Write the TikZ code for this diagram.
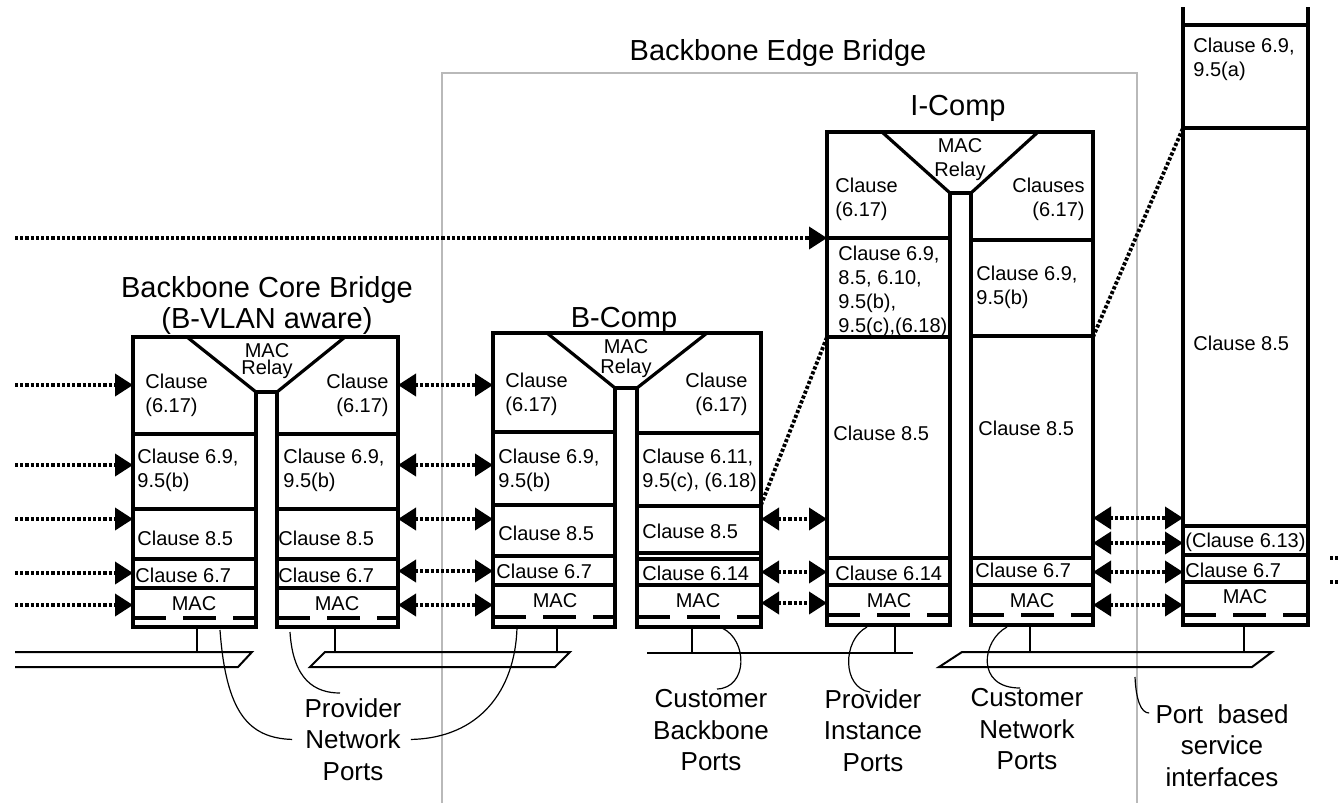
\documentclass[tikz,border=0pt]{standalone}
\usepackage{fontspec}
\setmainfont{Liberation Sans}
\usetikzlibrary{arrows.meta}

\begin{document}
\begin{tikzpicture}[x=0.5pt, y=-0.5pt,
    box/.style={line width=1.6pt},
    macline/.style={line width=1.8pt, dash pattern=on 16.5pt off 8.5pt},
    bus/.style={line width=1pt},
    stem/.style={line width=1.4pt},
    dots/.style={line width=1.9pt, dash pattern=on 1.6pt off 1pt},
    sig/.style={dots, -{Triangle[length=9pt,width=11pt]}},
    dsig/.style={dots, {Triangle[length=9pt,width=11pt]}-{Triangle[length=9pt,width=11pt]}},
    leader/.style={line width=0.6pt},
    cl/.style={inner sep=0pt, anchor=north west, align=left, font=\fontsize{10}{12}\selectfont},
    clr/.style={cl, anchor=north east, align=right},
    mac/.style={inner sep=0pt, anchor=base, font=\fontsize{10}{12}\selectfont},
    relay/.style={inner sep=0pt, anchor=north, align=center, font=\fontsize{10}{#1}\selectfont},
    ttl/.style={inner sep=0pt, anchor=base, align=center, font=\fontsize{14.5}{15.5}\selectfont},
    lab/.style={inner sep=0pt, anchor=north, align=center, font=\fontsize{13}{15.75}\selectfont}]
\useasboundingbox (0,0) rectangle (1342,803);

\coordinate (src) at (15,0);
\coordinate (bcbW) at (133,0);
\coordinate (bcbE) at (398,0);
\coordinate (bcW) at (493,0);
\coordinate (bcE) at (761,0);
\coordinate (icW) at (827,0);
\coordinate (icE) at (1093,0);
\coordinate (pbW) at (1183,0);
\coordinate (pbE) at (1308,0);

\draw[gray!55, line width=0.9pt] (442,803) -- (442,73) -- (1137,73) -- (1137,803);
\node[ttl] (edge) at (778,60) {Backbone Edge Bridge};

% backbone core bridge
\node[ttl, anchor=north] (core) at (267,276) {Backbone Core Bridge\\(B-VLAN aware)};
\draw[box] (256,627) -- (133,627) -- (133,337) -- (398,337) -- (398,627) -- (277,627) -- (277,392) -- (256,392) -- cycle;
\draw[box] (187,337) -- (256,392) (345,337) -- (277,392);
\foreach \y in {434,509,559,588}
    \draw[box] (133,\y) -- (256,\y) (277,\y) -- (398,\y);
\draw[macline] (133,618) -- (256,618) (277,618) -- (398,618);
\node[relay=8.5] (coreRelay) at (267,343) {MAC\\Relay};
\node[cl] (coreL1) at (145,373.5) {Clause\\(6.17)};
\node[cl] (coreL2) at (137,448.5) {Clause 6.9,\\9.5(b)};
\node[cl] (coreL3) at (137,530.5) {Clause 8.5};
\node[cl] (coreL4) at (135,567.5) {Clause 6.7};
\node[mac] (coreLm) at (194,610) {MAC};
\node[clr] (coreR1) at (389,373.5) {Clause\\(6.17)};
\node[cl] (coreR2) at (283,448.5) {Clause 6.9,\\9.5(b)};
\node[cl] (coreR3) at (278,530.5) {Clause 8.5};
\node[cl] (coreR4) at (278,567.5) {Clause 6.7};
\node[mac] (coreRm) at (337,610) {MAC};

% b-comp
\node[ttl] (bcomp) at (624,327) {B-Comp};
\draw[box] (615,627) -- (493,627) -- (493,333) -- (761,333) -- (761,627) -- (637,627) -- (637,388) -- (615,388) -- cycle;
\draw[box] (547,333) -- (615,388) (707,333) -- (637,388);
\foreach \y in {432,505,556,585}
    \draw[box] (493,\y) -- (615,\y);
\foreach \y in {433,506,553,559,585}
    \draw[box] (637,\y) -- (761,\y);
\draw[macline] (493,617) -- (615,617) (637,617) -- (761,617);
\node[relay=10] (bcRelay) at (626,339) {MAC\\Relay};
\node[cl] (bcL1) at (505,372.5) {Clause\\(6.17)};
\node[cl] (bcL2) at (498,448.5) {Clause 6.9,\\9.5(b)};
\node[cl] (bcL3) at (498,525.5) {Clause 8.5};
\node[cl] (bcL4) at (496,563.5) {Clause 6.7};
\node[mac] (bcLm) at (555,607) {MAC};
\node[clr] (bcR1) at (748,372.5) {Clause\\(6.17)};
\node[cl] (bcR2) at (642,448.5) {Clause 6.11,\\9.5(c), (6.18)};
\node[cl] (bcR3) at (642,523.5) {Clause 8.5};
\node[cl] (bcR4) at (642,565.5) {Clause 6.14};
\node[mac] (bcRm) at (698,607) {MAC};

% i-comp
\node[ttl] (icomp) at (958,115) {I-Comp};
\draw[box] (950,625) -- (827,625) -- (827,132) -- (1093,132) -- (1093,625) -- (971,625) -- (971,193) -- (950,193) -- cycle;
\draw[box] (882,132) -- (950,193) (1038,132) -- (971,193);
\foreach \y in {238,337,558,585}
    \draw[box] (827,\y) -- (950,\y);
\foreach \y in {240,336,558,585}
    \draw[box] (971,\y) -- (1093,\y);
\draw[macline] (827,615) -- (950,615) (971,615) -- (1093,615);
\node[relay=12] (icRelay) at (960,138) {MAC\\Relay};
\node[cl] (icL1) at (835,177.5) {Clause\\(6.17)};
\node[cl] (icL2) at (838,245.5) {Clause 6.9,\\8.5, 6.10,\\9.5(b),\\9.5(c),(6.18)};
\node[cl] (icL3) at (833,425.5) {Clause 8.5};
\node[cl] (icL4) at (835,565.5) {Clause 6.14};
\node[mac] (icLm) at (889,607) {MAC};
\node[clr] (icR1) at (1085,177.5) {Clauses\\(6.17)};
\node[cl] (icR2) at (976,265.5) {Clause 6.9,\\9.5(b)};
\node[cl] (icR3) at (978,420.5) {Clause 8.5};
\node[cl] (icR4) at (975,562.5) {Clause 6.7};
\node[mac] (icRm) at (1032,607) {MAC};

% port based interface
\draw[box] (1183,7) -- (1183,625) -- (1308,625) -- (1308,7);
\foreach \y in {25,128,526,555,582}
    \draw[box] (1183,\y) -- (1308,\y);
\draw[macline] (1183,615) -- (1308,615);
\node[cl] (pbA) at (1193,37.5) {Clause 6.9,\\9.5(a)};
\node[cl] (pbB) at (1193,335.5) {Clause 8.5};
\node[cl] (pbC) at (1185,532.5) {(Clause 6.13)};
\node[cl] (pbD) at (1185,562.5) {Clause 6.7};
\node[mac] (pbm) at (1245,603) {MAC};

% lans
\draw[bus] (15,652) -- (252,652) -- (238,667) -- (15,667);
\draw[bus] (325,652) -- (570,652) -- (555,667) -- (310,667) -- cycle;
\draw[line width=1.4pt] (647,653) -- (913,653);
\draw[bus] (962,652) -- (1272,652) -- (1252,667) -- (939,667) -- cycle;
\foreach \x in {197,335,557,692,895,1030,1244}
    \draw[stem] (\x,627) -- (\x,652);

% signals
\draw[sig] (src |- 0,238) -- (icW |- 0,238);
\foreach \y in {385,465,519,573,605}
    \draw[sig] (src |- 0,\y) -- (bcbW |- 0,\y);
\foreach \y in {385,465,519,571,605}
    \draw[dsig] (bcbE |- 0,\y) -- (bcW |- 0,\y);
\foreach \y in {519,572,603}
    \draw[dsig] (bcE |- 0,\y) -- (icW |- 0,\y);
\foreach \y in {518,543,572,605}
    \draw[dsig] (icE |- 0,\y) -- (pbW |- 0,\y);
\foreach \y in {558,582}
    \draw[dots] ([xshift=11pt]pbE |- 0,\y) -- ++(10,0);
\draw[dots] (bcE |- 0,505) -- (icW |- 0,337);
\draw[dots] (icE |- 0,337) -- (pbW |- 0,128);

% port labels
\node[lab] (pnp) at (353,698) {Provider\\Network\\Ports};
\node[lab] (cbp) at (711,689) {Customer\\Backbone\\Ports};
\node[lab] (pip) at (873,689) {Provider\\Instance\\Ports};
\node[lab] (cnp) at (1027,688) {Customer\\Network\\Ports};
\node[lab] (pbs) at (1222,704) {Port\ \ based\\service\\interfaces};

\draw[leader] (220,630) .. controls (226,712) and (248,738) .. ([xshift=-6pt]pnp.west);
\draw[leader] (290,632) .. controls (293,680) and (315,693) .. ([xshift=-6.5pt,yshift=2.5pt]pnp.north);
\draw[leader] ([xshift=4.5pt]pnp.east) .. controls (480,738) and (515,690) .. (517,628);
\draw[leader] (722,628) .. controls (748,640) and (748,688) .. ([xshift=3pt]cbp.north);
\draw[leader] (867,627) .. controls (842,640) and (842,688) .. ([xshift=-1.5pt,yshift=-1.5pt]pip.north);
\draw[leader] (1007,627) .. controls (982,640) and (975,688) .. ([xshift=-3.5pt]cnp.north);
\draw[leader] (1135,677) .. controls (1136,700) and (1141,713) .. ([xshift=-3pt,yshift=-4.5pt]pbs.north west);
\end{tikzpicture}
\end{document}
